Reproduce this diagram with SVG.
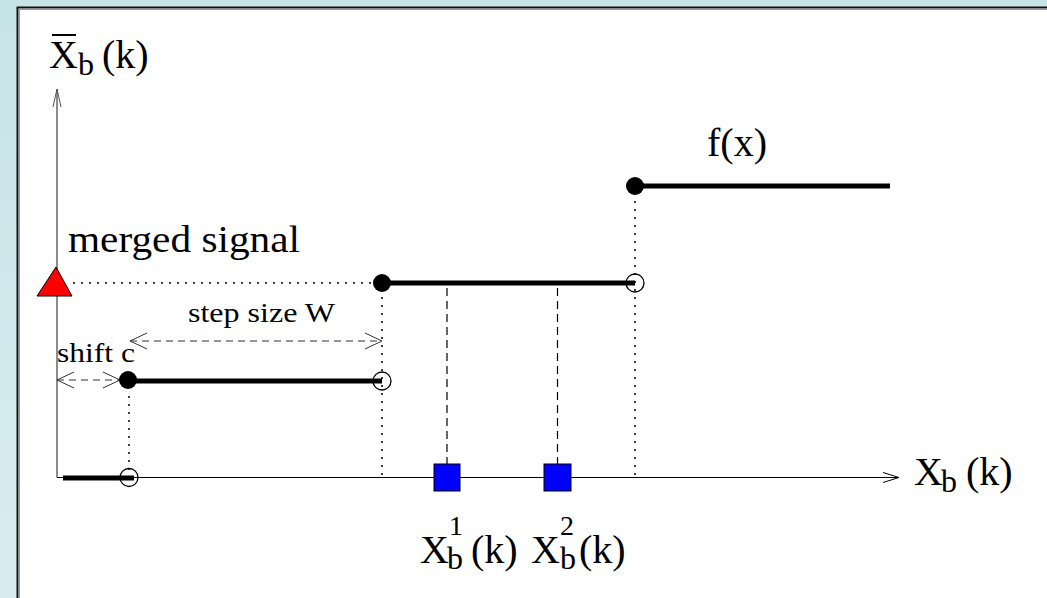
<svg xmlns="http://www.w3.org/2000/svg" width="1047" height="598" viewBox="0 0 1047 598">
<style>
text{font-family:"Liberation Serif","Times New Roman",serif;fill:#000}
.thick{stroke:#000;stroke-width:5;fill:none}
.dot{stroke:#000;stroke-width:1.5;stroke-dasharray:2 6;fill:none}
.dash{stroke:#000;stroke-width:1.2;stroke-dasharray:8 5;fill:none}
.darr{stroke:#333;stroke-width:1;stroke-dasharray:7 5;fill:none}
.fill{fill:#000}
.open{fill:none;stroke:#000;stroke-width:1.3}
.sq{fill:#0000ff;stroke:#000;stroke-width:1}
.sub{font-size:32px}
.sup{font-size:28px}
.big{font-size:40px}
</style>
<defs>
<linearGradient id="bg" x1="0" y1="0" x2="0" y2="1">
<stop offset="0" stop-color="#c6e3e8"/>
<stop offset="1" stop-color="#d9edf1"/>
</linearGradient>
<marker id="ah" markerUnits="userSpaceOnUse" orient="auto-start-reverse" refX="0" refY="0" markerWidth="1" markerHeight="1" overflow="visible">
<path d="M-17,-8 L0,0 L-17,8" fill="none" stroke="#333" stroke-width="1"/>
</marker>
<marker id="axx" markerUnits="userSpaceOnUse" orient="auto" refX="0" refY="0" markerWidth="1" markerHeight="1" overflow="visible">
<path d="M-16,-5 L0,0 L-16,5" fill="none" stroke="#000" stroke-width="1"/>
</marker>
<marker id="axy" markerUnits="userSpaceOnUse" orient="auto" refX="0" refY="0" markerWidth="1" markerHeight="1" overflow="visible">
<path d="M-18,-4 L0,0 L-18,4" fill="none" stroke="#555" stroke-width="1"/>
</marker>
</defs>
<rect x="0" y="0" width="1047" height="598" fill="url(#bg)"/>
<rect x="18" y="8" width="1040" height="600" fill="#fff"/>
<path d="M17.5,598 V7.5 H1047" fill="none" stroke="#111" stroke-width="2"/>
<path d="M19.5,598 V9.5 H1047" fill="none" stroke="#999" stroke-width="1"/>

<g id="connectors">
<line x1="57" y1="477.5" x2="57" y2="89" stroke="#666" stroke-width="1.5" marker-end="url(#axy)"/>
<line x1="57" y1="477.5" x2="899" y2="477.5" stroke="#000" stroke-width="1.2" marker-end="url(#axx)"/>
<line class="dot" x1="129" y1="470" x2="129" y2="390"/>
<line class="dot" x1="382" y1="475" x2="382" y2="292"/>
<line class="dot" x1="635" y1="475" x2="635" y2="195"/>
<line class="dot" x1="73" y1="283" x2="372" y2="283"/>
<line class="dash" x1="447" y1="288" x2="447" y2="464"/>
<line class="dash" x1="557.5" y1="288" x2="557.5" y2="464"/>
<line class="darr" x1="130" y1="341" x2="382" y2="341" marker-start="url(#ah)" marker-end="url(#ah)"/>
<line class="darr" x1="57" y1="380" x2="120" y2="380" marker-start="url(#ah)" marker-end="url(#ah)"/>
</g>

<g id="step0">
<line class="thick" x1="63" y1="478" x2="134" y2="478"/>
<circle class="open" cx="129" cy="477.5" r="9"/>
</g>
<g id="step1">
<line class="thick" x1="129" y1="381" x2="382" y2="381"/>
<circle class="fill" cx="128" cy="380" r="9"/>
<circle class="open" cx="382" cy="381" r="9"/>
</g>
<g id="step2">
<line class="thick" x1="382" y1="283" x2="635" y2="283"/>
<circle class="fill" cx="382" cy="283" r="9"/>
<circle class="open" cx="635" cy="283" r="9"/>
</g>
<g id="step3">
<line class="thick" x1="635" y1="186" x2="890" y2="186"/>
<circle class="fill" cx="635" cy="186" r="9"/>
</g>

<g id="merged-signal">
<polygon points="37,296 56,267 72,296" fill="#ff0000" stroke="#000" stroke-width="1"/>
<text x="68" y="252" font-size="38" textLength="232" lengthAdjust="spacingAndGlyphs">merged signal</text>
</g>

<g id="samples">
<rect class="sq" x="434" y="464" width="26" height="27"/>
<rect class="sq" x="544" y="464" width="27" height="27"/>
</g>

<g id="labels">
<text x="188" y="322" font-size="28" textLength="147" lengthAdjust="spacingAndGlyphs">step size W</text>
<text x="57" y="362" font-size="28" textLength="78" lengthAdjust="spacingAndGlyphs">shift c</text>
<text x="707" y="156" class="big" textLength="60" lengthAdjust="spacingAndGlyphs">f(x)</text>

<line x1="52" y1="35" x2="76" y2="35" stroke="#000" stroke-width="2"/>
<text><tspan x="49" y="68" class="big">X</tspan><tspan x="78" y="75" class="sub">b</tspan><tspan x="102" y="68" class="big">(k)</tspan></text>

<text><tspan x="914" y="485" class="big">X</tspan><tspan x="941" y="492" class="sub">b</tspan><tspan x="966" y="485" class="big">(k)</tspan></text>

<text><tspan x="420" y="563" class="big">X</tspan><tspan x="449" y="535" class="sup">1</tspan><tspan x="447" y="569" class="sub">b</tspan><tspan x="471" y="563" class="big">(k)</tspan></text>

<text><tspan x="531" y="563" class="big">X</tspan><tspan x="560" y="535" class="sup">2</tspan><tspan x="560" y="569" class="sub">b</tspan><tspan x="579" y="563" class="big">(k)</tspan></text>
</g>
</svg>
